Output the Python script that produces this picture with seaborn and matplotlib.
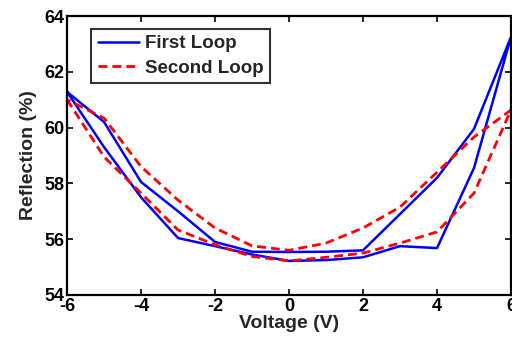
import matplotlib
matplotlib.use("Agg")
import matplotlib.pyplot as plt
import seaborn as sns
import pandas as pd

# Voltage sweep (closed loop: -6 -> 6 -> -6)
voltage = [-6, -5, -4, -3, -2, -1, 0, 1, 2, 3, 4, 5, 6,
           5, 4, 3, 2, 1, 0, -1, -2, -3, -4, -5, -6]

first_loop = [61.28, 59.3, 57.5, 56.04, 55.75, 55.45, 55.22, 55.25, 55.35, 55.75, 55.68, 58.55, 63.25,
              59.95, 58.2, 56.9, 55.6, 55.55, 55.54, 55.55, 55.9, 57.0, 58.05, 60.2, 61.28]

second_loop = [61.0, 58.95, 57.65, 56.33, 55.8, 55.38, 55.22, 55.35, 55.5, 55.86, 56.26, 57.65, 60.63,
               59.66, 58.4, 57.15, 56.4, 55.86, 55.6, 55.76, 56.4, 57.4, 58.6, 60.34, 61.0]

labels = ["First Loop", "Second Loop"]
xticks = [-6, -4, -2, 0, 2, 4, 6]
yticks = [54, 56, 58, 60, 62, 64]

sns.set_style("white")
plt.rcParams["font.family"] = ["Liberation Sans", "DejaVu Sans"]
plt.rcParams["font.weight"] = "bold"

fig = plt.figure(figsize=(5.12, 3.41), dpi=100)
ax = fig.add_axes([0.131, 0.135, 0.867, 0.818])

df1 = pd.DataFrame({"V": voltage, "R": first_loop})
df2 = pd.DataFrame({"V": voltage, "R": second_loop})

sns.lineplot(data=df1, x="V", y="R", sort=False, estimator=None, ax=ax,
             color="#0000ff", linewidth=1.8, label=labels[0])
sns.lineplot(data=df2, x="V", y="R", sort=False, estimator=None, ax=ax,
             color="#ff0000", linewidth=2.0, label=labels[1])
ax.lines[1].set_dashes((3.2, 1.8))

ax.set_xlim(-6, 6)
ax.set_ylim(54, 64)
ax.set_xticks(xticks)
ax.set_yticks(yticks)
ax.set_xticklabels([str(t) for t in xticks], fontsize=13, fontweight="bold")
ax.set_yticklabels([str(t) for t in yticks], fontsize=13, fontweight="bold")
ax.set_xlabel("Voltage (V)", fontsize=14, fontweight="bold", labelpad=0)
ax.set_ylabel("Reflection (%)", fontsize=14, fontweight="bold", labelpad=5)

for s in ax.spines.values():
    s.set_visible(True)
    s.set_color("black")
    s.set_linewidth(1.6)
ax.tick_params(direction="in", length=4, width=1.2, top=True, right=True,
               bottom=True, left=True, pad=2, colors="black")

leg = ax.legend(loc="upper left", bbox_to_anchor=(0.055, 0.955), fontsize=13.5,
                frameon=True, fancybox=False, handlelength=2.2, borderpad=0.35,
                labelspacing=0.4, handletextpad=0.3, borderaxespad=0)
leg.get_frame().set_edgecolor("black")
leg.get_frame().set_linewidth(1.5)
for t in leg.get_texts():
    t.set_fontweight("bold")

fig.savefig("out.png", dpi=100)
